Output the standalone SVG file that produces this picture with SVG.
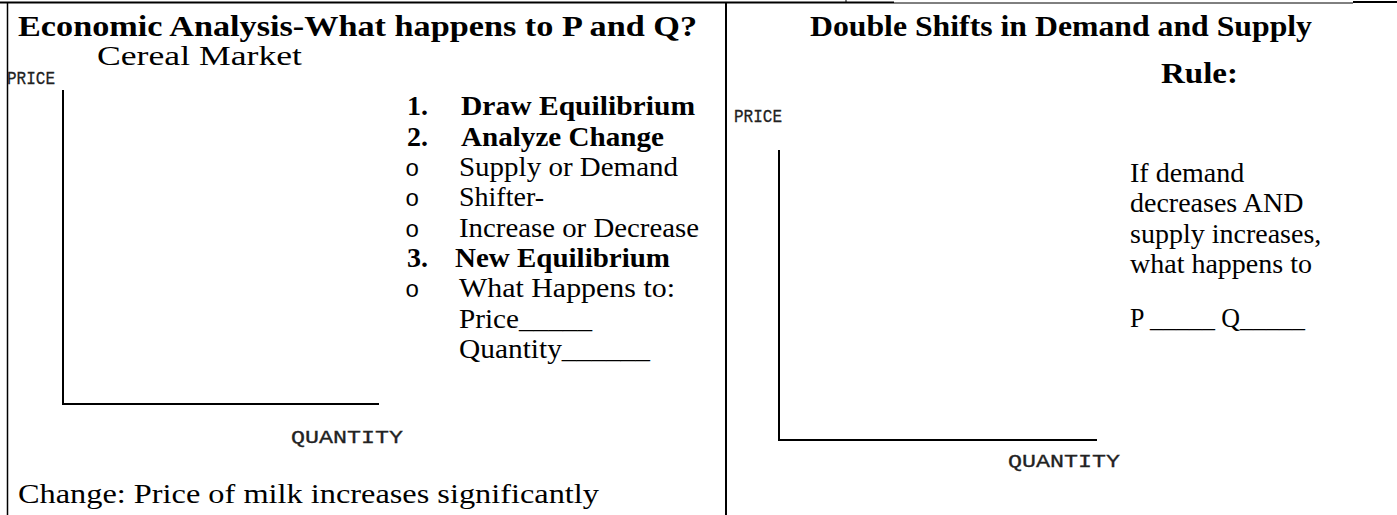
<svg xmlns="http://www.w3.org/2000/svg" width="1397" height="515" viewBox="0 0 1397 515">
<style>
.t{font-family:'Times New Roman','Liberation Serif',Times,serif;font-size:28px;fill:#000}
.h{font-size:30px}
.b{font-weight:bold}
.m{font-family:'Courier New','Liberation Mono',Courier,monospace;font-size:18px;fill:#222;stroke:#222;stroke-width:0.3}
.o{font-family:'Courier New','Liberation Mono',Courier,monospace;font-size:24px;fill:#000}
.ln{stroke:#000;fill:none}
</style>
<rect width="1397" height="515" fill="#fff"/>
<g id="table">
<line class="ln" x1="0" y1="2.5" x2="894" y2="2.5" stroke-width="2"/>
<line class="ln" x1="894" y1="3" x2="1353" y2="3" stroke-width="1"/>
<line class="ln" x1="1353" y1="2" x2="1397" y2="2" stroke-width="2"/>
<line class="ln" x1="846" y1="0" x2="846" y2="3" stroke-width="1"/>
<line class="ln" x1="7.5" y1="2" x2="7.5" y2="515" stroke-width="1.5"/>
<line class="ln" x1="726" y1="2" x2="726" y2="515" stroke-width="2"/>
</g>
<g id="left-panel">
<text class="t h b" x="18" y="36" textLength="679" lengthAdjust="spacingAndGlyphs">Economic Analysis-What happens to P and Q?</text>
<text class="t" x="97" y="65" textLength="205" lengthAdjust="spacingAndGlyphs">Cereal Market</text>
<text class="m" x="7" y="84" textLength="48" lengthAdjust="spacingAndGlyphs">PRICE</text>
<path class="ln" d="M63 90 V404 H379" stroke-width="2"/>
<text class="m" x="291" y="443" textLength="112" lengthAdjust="spacingAndGlyphs">QUANTITY</text>
<text class="t" x="18" y="503" textLength="581" lengthAdjust="spacingAndGlyphs">Change: Price of milk increases significantly</text>
</g>
<g id="steps">
<text class="t b" x="407" y="115">1.</text>
<text class="t b" x="461" y="115" textLength="234" lengthAdjust="spacingAndGlyphs">Draw Equilibrium</text>
<text class="t b" x="407" y="146">2.</text>
<text class="t b" x="461" y="146" textLength="203" lengthAdjust="spacingAndGlyphs">Analyze Change</text>
<text class="o" x="405" y="176">o</text>
<text class="t" x="459" y="176" textLength="219" lengthAdjust="spacingAndGlyphs">Supply or Demand</text>
<text class="o" x="405" y="206">o</text>
<text class="t" x="459" y="206">Shifter-</text>
<text class="o" x="405" y="237">o</text>
<text class="t" x="459" y="237" textLength="240" lengthAdjust="spacingAndGlyphs">Increase or Decrease</text>
<text class="t b" x="407" y="267">3.</text>
<text class="t b" x="455" y="267" textLength="215" lengthAdjust="spacingAndGlyphs">New Equilibrium</text>
<text class="o" x="405" y="297">o</text>
<text class="t" x="459" y="297" textLength="216" lengthAdjust="spacingAndGlyphs">What Happens to:</text>
<text class="t" x="459" y="328" textLength="133" lengthAdjust="spacingAndGlyphs">Price_____</text>
<text class="t" x="459" y="358" textLength="191" lengthAdjust="spacingAndGlyphs">Quantity______</text>
</g>
<g id="right-panel">
<text class="t h b" x="810" y="36" textLength="502" lengthAdjust="spacingAndGlyphs">Double Shifts in Demand and Supply</text>
<text class="t h b" x="1161" y="83" textLength="77" lengthAdjust="spacingAndGlyphs">Rule:</text>
<text class="m" x="734" y="122" textLength="48" lengthAdjust="spacingAndGlyphs">PRICE</text>
<path class="ln" d="M779 150 V440 H1097" stroke-width="2"/>
<text class="m" x="1008" y="467" textLength="112" lengthAdjust="spacingAndGlyphs">QUANTITY</text>
<text class="t" x="1130" y="182">If demand</text>
<text class="t" x="1130" y="212">decreases AND</text>
<text class="t" x="1130" y="243">supply increases,</text>
<text class="t" x="1130" y="273">what happens to</text>
<text class="t" x="1130" y="327" textLength="175" lengthAdjust="spacingAndGlyphs">P _____ Q_____</text>
</g>
</svg>
